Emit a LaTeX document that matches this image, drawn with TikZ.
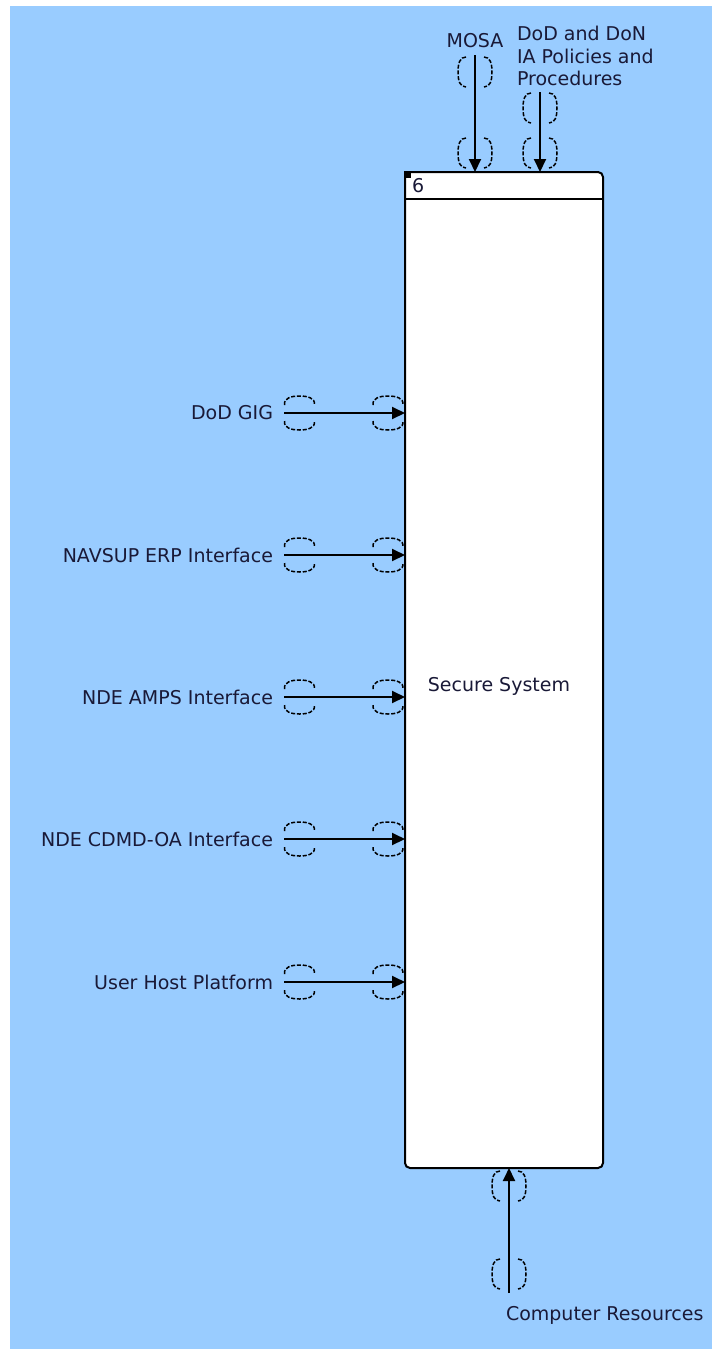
\documentclass[tikz,border=0pt]{standalone}
\usepackage{fontspec}
\setmainfont{DejaVu Sans}
\usetikzlibrary{arrows.meta}
\definecolor{bgblue}{RGB}{153,204,255}
\definecolor{txtcol}{RGB}{25,25,55}
\tikzset{
  lbl/.style={inner sep=0pt, outer sep=0pt, text=txtcol, font=\fontsize{19}{22.5}\selectfont},
  flow/.style={line width=2pt, -{Triangle[length=13pt,width=12pt]}},
  tun/.style={line width=1.5pt, dash pattern=on 4pt off 1.8pt},
  pics/vtun/.style={code={
    \draw[tun] (-9,-15) .. controls (-15,-15) and (-17,-9) .. (-17,0) .. controls (-17,9) and (-15,15) .. (-9,15);
    \draw[tun] (9,-15) .. controls (15,-15) and (17,-9) .. (17,0) .. controls (17,9) and (15,15) .. (9,15);
  }},
  pics/htun/.style={code={
    \draw[tun] (-15,-8) .. controls (-16,-15) and (-8,-17) .. (0,-17) .. controls (8,-17) and (16,-15) .. (15,-8);
    \draw[tun] (-15,8) .. controls (-16,15) and (-8,17) .. (0,17) .. controls (8,17) and (16,15) .. (15,8);
  }}
}
\begin{document}
\begin{tikzpicture}[x=1pt,y=-1pt]
\useasboundingbox (0,0) rectangle (712,1349);
\fill[white] (0,0) rectangle (712,1349);
\fill[bgblue] (10,6) rectangle (712,1349);

% activity box
\node[draw, line width=2pt, fill=white, rounded corners=5pt, minimum width=198pt, minimum height=996pt, inner sep=0pt, outer sep=0pt] (box) at (504,670) {};
\coordinate (hl) at (405,199);
\coordinate (hr) at (603,199);
\draw[line width=2pt] (hl) -- (hr);
\fill[black] (404,171) rectangle (411,178);
\node[lbl, anchor=west] (num) at (412,186) {6};
\node[lbl] (title) at (499,686) {Secure System};

% top controls
\node[lbl] (mosa) at (475,41) {MOSA};
\node[lbl, anchor=west, align=left] (ia) at (517,56) {DoD and DoN\\IA Policies and\\Procedures};
\coordinate (smosa) at (475,55);
\coordinate (sia) at (540,92);
\draw[flow] (smosa) -- (smosa |- box.north);
\draw[flow] (sia) -- (sia |- box.north);
\pic at (475,72) {vtun};
\pic at (475,153) {vtun};
\pic at (540,108) {vtun};
\pic at (540,153) {vtun};

% left inputs
\foreach \nm/\yy/\txt in {gig/413/DoD GIG, nav/555/NAVSUP ERP Interface, amps/697/NDE AMPS Interface, cdmd/839/NDE CDMD-OA Interface, uhp/982/User Host Platform}{
  \node[lbl, anchor=east] (\nm) at (273,\yy) {\txt};
  \coordinate (s\nm) at (284,\yy);
  \draw[flow] (s\nm) -- (s\nm -| box.west);
  \pic at (299.5,\yy) {htun};
  \pic at (388,\yy) {htun};
}

% bottom mechanism
\coordinate (scr) at (509,1293);
\draw[flow] (scr) -- (scr |- box.south);
\pic at (509,1186) {vtun};
\pic at (509,1274) {vtun};
\node[lbl, anchor=west] (cr) at (506,1315) {Computer Resources};
\end{tikzpicture}
\end{document}
